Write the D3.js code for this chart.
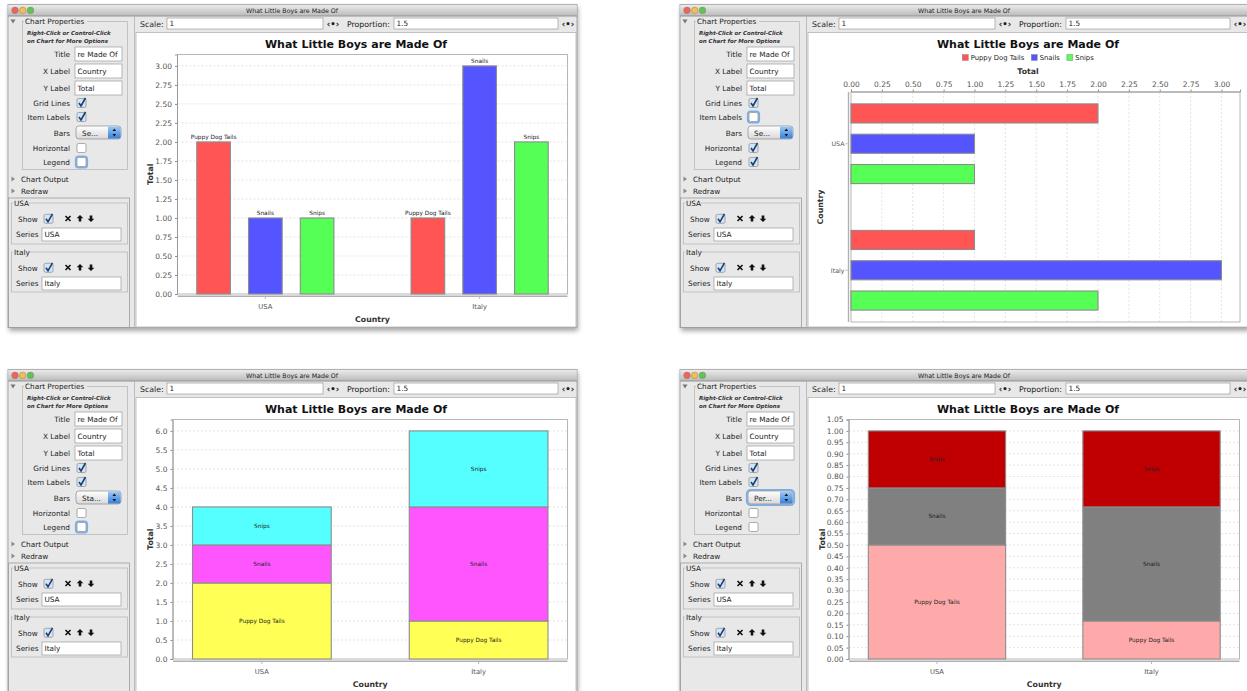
<!DOCTYPE html>
<html>
<head>
<meta charset="utf-8">
<script src="https://cdn.jsdelivr.net/npm/d3@7"></script>
<style>
body { margin: 0; background: #fff; }
svg { display: block; font-family: "DejaVu Sans", sans-serif; }
</style>
</head>
<body>
<svg id="canvas" width="1247" height="691"></svg>
<script>
//Chart data
var countries = ["USA", "Italy"];
var parts = ["Puppy Dog Tails", "Snails", "Snips"];
var puppyDogTails = [2, 1];
var snails = [1, 3];
var snips = [1, 2];

var chartTitle = "What Little Boys are Made Of";
var xLabel = "Country";
var yLabel = "Total";

//Tick labels
var countTicks = [0, 0.25, 0.5, 0.75, 1, 1.25, 1.5, 1.75, 2, 2.25, 2.5, 2.75, 3];
var stackTicks = [0, 0.5, 1, 1.5, 2, 2.5, 3, 3.5, 4, 4.5, 5, 5.5, 6];
var percentTicks = [0, 0.05, 0.1, 0.15, 0.2, 0.25, 0.3, 0.35, 0.4, 0.45, 0.5, 0.55, 0.6, 0.65, 0.7, 0.75, 0.8, 0.85, 0.9, 0.95, 1, 1.05];

//Colours
var groupColors = ["#ff5555", "#5555ff", "#55ff55"];
var stackColors = ["#ffff55", "#ff55ff", "#55ffff"];
var percentColors = ["#ffaaaa", "#808080", "#c00000"];

//Options shown in each window's side panel
var barModes = ["Se...", "Se...", "Sta...", "Per..."];

var rows = countries.map(function(c, i) {
    return {country: c, "Puppy Dog Tails": puppyDogTails[i], "Snails": snails[i], "Snips": snips[i]};
});
var percentRows = rows.map(function(r) {
    var total = d3.sum(parts, function(p) { return r[p]; });
    var o = {country: r.country};
    parts.forEach(function(p) { o[p] = r[p] / total; });
    return o;
});

var svg = d3.select("#canvas");
var bg = "#e8e8e8";

////////////////////// Defs /////////////////////////
var defs = svg.append("defs");
function grad(id, c1, c2) {
    var lg = defs.append("linearGradient").attr("id", id)
        .attr("x1", 0).attr("y1", 0).attr("x2", 0).attr("y2", 1);
    lg.append("stop").attr("offset", "0%").attr("stop-color", c1);
    lg.append("stop").attr("offset", "100%").attr("stop-color", c2);
}
grad("titlebar", "#ebebeb", "#bababa");
grad("button", "#ffffff", "#d8d8d8");
grad("stepper", "#9ccaf7", "#3a7ed8");
defs.append("filter").attr("id", "shadow")
    .attr("x", "-5%").attr("y", "-5%").attr("width", "110%").attr("height", "115%")
    .append("feGaussianBlur").attr("stdDeviation", 2.5);

////////////////////// Widgets /////////////////////////
function txt(g, x, y, s, size) {
    return g.append("text").attr("x", x).attr("y", y)
        .attr("font-size", size).attr("fill", "#222").text(s);
}

function field(g, x, y, w, h, s) {
    g.append("rect").attr("x", x).attr("y", y).attr("width", w).attr("height", h)
        .attr("fill", "#fff").attr("stroke", "#9a9a9a").attr("stroke-width", 0.7);
    txt(g, x + 2.5, y + h / 2 + 2.7, s, 7.3);
}

function checkbox(g, x, cy, checked, focus) {
    var y = cy - 4.5;
    if (focus) {
        g.append("rect").attr("x", x - 1.2).attr("y", y - 1.2).attr("width", 11.4).attr("height", 11.4)
            .attr("rx", 3).attr("fill", "none").attr("stroke", "#7aaee8").attr("stroke-width", 1.8);
    }
    g.append("rect").attr("x", x).attr("y", y).attr("width", 9).attr("height", 9).attr("rx", 1.5)
        .attr("fill", checked ? "#d3e6f8" : "#fff").attr("stroke", "#8a8a8a").attr("stroke-width", 0.7);
    if (checked) {
        g.append("path").attr("d", "M" + (x + 2) + "," + (y + 4.5) + " L" + (x + 4) + "," + (y + 7.5) + " L" + (x + 8.5) + "," + (y - 0.5))
            .attr("fill", "none").attr("stroke", "#1c3e70").attr("stroke-width", 1.6);
    }
}

function groupBox(g, x, y, w, h, label, lw) {
    g.append("rect").attr("x", x).attr("y", y).attr("width", w).attr("height", h)
        .attr("fill", "none").attr("stroke", "#b9b9b9").attr("stroke-width", 0.8);
    g.append("rect").attr("x", x + 1.5).attr("y", y - 4).attr("width", lw).attr("height", 8).attr("fill", bg);
    txt(g, x + 2.5, y + 2.7, label, 7.3);
}

function icons(g, cy) {
    g.append("path").attr("d", "M65.5," + (cy - 2.5) + " L70.5," + (cy + 2.5) + " M70.5," + (cy - 2.5) + " L65.5," + (cy + 2.5))
        .attr("stroke", "#111").attr("stroke-width", 1.6);
    var cx = 80;
    g.append("path").attr("d", "M" + cx + "," + (cy - 3.5) + " l3.3,3.3 h-2 v3.3 h-2.6 v-3.3 h-2 Z").attr("fill", "#111");
    cx = 91;
    g.append("path").attr("d", "M" + cx + "," + (cy + 3.5) + " l3.3,-3.3 h-2 v-3.3 h-2.6 v3.3 h-2 Z").attr("fill", "#111");
}

////////////////////// Window /////////////////////////
function drawWindow(ox, oy, idx, opt) {
    var g = svg.append("g").attr("transform", "translate(" + ox + "," + oy + ")");

    //Frame
    g.append("rect").attr("x", 9).attr("y", 7).attr("width", 569).attr("height", 324)
        .attr("fill", "#000").attr("opacity", 0.35).attr("filter", "url(#shadow)");
    g.append("rect").attr("x", 8).attr("y", 4.5).attr("width", 569).attr("height", 323)
        .attr("fill", bg).attr("stroke", "#9a9a9a").attr("stroke-width", 0.8);
    g.append("rect").attr("x", 8.4).attr("y", 4.9).attr("width", 568.2).attr("height", 11)
        .attr("fill", "url(#titlebar)");
    g.append("line").attr("x1", 8).attr("x2", 577).attr("y1", 16).attr("y2", 16)
        .attr("stroke", "#808080").attr("stroke-width", 0.8);
    [["#ec6559", 15], ["#f3bd4f", 22.7], ["#60c453", 30.5]].forEach(function(d) {
        g.append("circle").attr("cx", d[1]).attr("cy", 10.4).attr("r", 3.3)
            .attr("fill", d[0]).attr("stroke", "#7a7a7a").attr("stroke-width", 0.4);
    });
    txt(g, 292, 12.9, chartTitle, 6.3).attr("text-anchor", "middle");

    //Scale row
    txt(g, 140, 26.5, "Scale:", 7.8);
    field(g, 167, 18, 156, 11, "1");
    txt(g, 333, 26.5, "‹•›", 8.5).attr("font-weight", "bold").attr("text-anchor", "middle");
    txt(g, 347, 26.5, "Proportion:", 7.8);
    field(g, 394, 18, 164, 11, "1.5");
    txt(g, 568, 26.5, "‹•›", 8.5).attr("font-weight", "bold").attr("text-anchor", "middle");

    //Side panel
    g.append("path").attr("d", "M10.5,19.5 L15.5,19.5 L13,23.5 Z").attr("fill", "#777");
    groupBox(g, 22.5, 21.5, 105, 148, "Chart Properties", 63);
    txt(g, 27, 35, "Right-Click or Control-Click", 5.5).attr("font-weight", "bold").attr("font-style", "italic").attr("fill", "#333");
    txt(g, 27, 43, "on Chart for More Options", 5.5).attr("font-weight", "bold").attr("font-style", "italic").attr("fill", "#333");

    var fields = [["Title", "re Made Of", 47], ["X Label", xLabel, 64], ["Y Label", yLabel, 81]];
    fields.forEach(function(f) {
        txt(g, 70, f[2] + 9.5, f[0], 7.3).attr("text-anchor", "end");
        field(g, 75, f[2], 47, 14, f[1]);
    });
    var checks = [["Grid Lines", 103, opt.grid], ["Item Labels", 117, opt.labels],
                  ["Horizontal", 148, opt.horiz], ["Legend", 162, opt.legend]];
    checks.forEach(function(c) {
        txt(g, 70, c[1] + 2.6, c[0], 7.3).attr("text-anchor", "end");
        checkbox(g, 77, c[1], c[2], opt.focus == c[0]);
    });

    //Bars popup
    txt(g, 70, 135.6, "Bars", 7.3).attr("text-anchor", "end");
    if (opt.focus == "Bars") {
        g.append("rect").attr("x", 74.8).attr("y", 124.8).attr("width", 47.4).attr("height", 15.4).attr("rx", 4)
            .attr("fill", "none").attr("stroke", "#7aaee8").attr("stroke-width", 1.8);
    }
    g.append("rect").attr("x", 76).attr("y", 126).attr("width", 45).attr("height", 13).attr("rx", 3)
        .attr("fill", "url(#button)").attr("stroke", "#8a8a8a").attr("stroke-width", 0.7);
    g.append("path").attr("d", "M108,126.4 h10 a2.6,2.6 0 0 1 2.6,2.6 v7 a2.6,2.6 0 0 1 -2.6,2.6 h-10 Z")
        .attr("fill", "url(#stepper)");
    g.append("path").attr("d", "M112.5,131 l1.8,-2.4 l1.8,2.4 Z M112.5,134 l1.8,2.4 l1.8,-2.4 Z").attr("fill", "#111");
    txt(g, 82, 135.6, barModes[idx], 7.3);

    //Collapsed sections
    g.append("path").attr("d", "M11.5,176.5 L15,179 L11.5,181.5 Z").attr("fill", "#888");
    txt(g, 21, 181.6, "Chart Output", 7.3);
    g.append("path").attr("d", "M11.5,188.5 L15,191 L11.5,193.5 Z").attr("fill", "#888");
    txt(g, 21, 193.6, "Redraw", 7.3);

    //Series panel
    g.append("rect").attr("x", 8.5).attr("y", 198).attr("width", 121).attr("height", 129.5)
        .attr("fill", "none").attr("stroke", "#9d9d9d").attr("stroke-width", 0.8);
    g.append("line").attr("x1", 134.5).attr("x2", 134.5).attr("y1", 16).attr("y2", 327)
        .attr("stroke", "#b0b0b0").attr("stroke-width", 0.8);
    [["USA", 203, 41, 16], ["Italy", 252, 40, 16]].forEach(function(s) {
        var y = s[1];
        groupBox(g, 11.5, y, 116, s[2], s[0], s[3]);
        txt(g, 18, y + 18.5, "Show", 7.3);
        checkbox(g, 44, y + 15.8, true, false);
        icons(g, y + 15.5);
        txt(g, 16, y + 34, "Series", 7.3);
        field(g, 42, y + 25, 79, 13, s[0]);
    });

    //Chart panel
    g.append("rect").attr("x", 136).attr("y", 32.5).attr("width", 440).attr("height", 294.5)
        .attr("fill", "#fff").attr("stroke", "#b5b5b5").attr("stroke-width", 0.8);
    txt(g, 356, 47.5, chartTitle, 11).attr("font-weight", "bold").attr("text-anchor", "middle").attr("fill", "#111");
    return g;
}

function styleAxis(ax, size) {
    ax.attr("font-family", null).attr("font-size", null);
    ax.select(".domain").attr("stroke", "#9a9a9a");
    ax.selectAll(".tick line").attr("stroke", "#8a8a8a");
    ax.selectAll(".tick text").attr("fill", "#555").attr("font-size", size);
}

////////////////////// Vertical charts /////////////////////////
function verticalChart(g, mode) {
    var left = mode == "stack" ? 173 : 177.5;
    var right = 567.5, top = 54.5, bottom = 294;
    var data = rows, ticks = countTicks, fmt = d3.format(".2f"), colors = groupColors, yMax = 3.15;
    if (mode == "stack") { ticks = stackTicks; fmt = d3.format(".1f"); colors = stackColors; yMax = 6.3; }
    if (mode == "percent") { data = percentRows; ticks = percentTicks; colors = percentColors; yMax = 1.05; left = 177; }

    var x0 = d3.scaleBand().domain(countries).range([left, right]).paddingInner(0.36).paddingOuter(0.09);
    var x1 = d3.scaleBand().domain(parts).range([0, x0.bandwidth()]).paddingInner(0.35);
    var y = d3.scaleLinear().domain([0, yMax]).range([bottom, top]);
    var color = d3.scaleOrdinal().domain(parts).range(colors);

    g.append("rect").attr("x", left).attr("y", top).attr("width", right - left).attr("height", bottom - top)
        .attr("fill", "#fff").attr("stroke", "#b0b0b0").attr("stroke-width", 0.9);

    //Grid lines
    g.append("g").selectAll("line")
        .data(ticks.filter(function(t) { return t > 0 && y(t) > top + 0.5; }))
        .enter().append("line")
        .attr("x1", left).attr("x2", right)
        .attr("y1", function(d) { return y(d); }).attr("y2", function(d) { return y(d); })
        .attr("stroke", "#d2d2d2").attr("stroke-width", 0.6).attr("stroke-dasharray", "2,2");

    //Value axis
    var ax = g.append("g").attr("transform", "translate(" + (left - 0.5) + ",0)")
        .call(d3.axisLeft(y).tickValues(ticks).tickFormat(fmt).tickSize(2).tickPadding(3));
    styleAxis(ax, 7.5);

    //Category axis
    g.append("line").attr("x1", left).attr("x2", right).attr("y1", bottom + 2.2).attr("y2", bottom + 2.2)
        .attr("stroke", "#b0b0b0").attr("stroke-width", 1.4);
    countries.forEach(function(c) {
        var cx = x0(c) + x0.bandwidth() / 2;
        g.append("line").attr("x1", cx).attr("x2", cx).attr("y1", bottom + 3).attr("y2", bottom + 5)
            .attr("stroke", "#8a8a8a").attr("stroke-width", 0.6);
        txt(g, cx, bottom + 14.5, c, 6.8).attr("text-anchor", "middle").attr("fill", "#555");
    });
    txt(g, (left + right) / 2, bottom + 28, xLabel, 7.8).attr("font-weight", "bold")
        .attr("text-anchor", "middle").attr("fill", "#333");
    txt(g, 0, 0, yLabel, 7.8).attr("font-weight", "bold").attr("text-anchor", "middle").attr("fill", "#333")
        .attr("transform", "translate(152.5," + ((top + bottom) / 2) + ") rotate(-90)");

    if (mode == "group") {
        var groups = g.append("g").selectAll("g").data(data).enter().append("g")
            .attr("transform", function(d) { return "translate(" + x0(d.country) + ",0)"; });
        var cells = groups.selectAll("g").data(function(d) {
            return parts.map(function(p) { return {key: p, value: d[p]}; });
        }).enter().append("g");
        cells.append("rect")
            .attr("x", function(d) { return x1(d.key); })
            .attr("y", function(d) { return y(d.value); })
            .attr("width", x1.bandwidth())
            .attr("height", function(d) { return bottom - y(d.value); })
            .attr("fill", function(d) { return color(d.key); })
            .attr("stroke", "#8c8c8c").attr("stroke-width", 1.1);
        cells.append("text")
            .attr("x", function(d) { return x1(d.key) + x1.bandwidth() / 2; })
            .attr("y", function(d) { return y(d.value) - 2.5; })
            .attr("text-anchor", "middle").attr("font-size", 5.8).attr("fill", "#222")
            .text(function(d) { return d.key; });
    } else {
        var series = d3.stack().keys(parts)(data);
        var layers = g.append("g").selectAll("g").data(series).enter().append("g")
            .attr("fill", function(d) { return color(d.key); });
        layers.selectAll("rect").data(function(d) { return d; }).enter().append("rect")
            .attr("x", function(d) { return x0(d.data.country); })
            .attr("y", function(d) { return y(d[1]); })
            .attr("width", x0.bandwidth())
            .attr("height", function(d) { return y(d[0]) - y(d[1]); })
            .attr("stroke", "#8c8c8c").attr("stroke-width", 1.1);
        series.forEach(function(s) {
            s.forEach(function(d) {
                txt(g, x0(d.data.country) + x0.bandwidth() / 2, (y(d[0]) + y(d[1])) / 2 + 2, s.key, 5.8)
                    .attr("text-anchor", "middle");
            });
        });
    }
}

////////////////////// Horizontal chart /////////////////////////
function horizontalChart(g) {
    var left = 179, right = 568, top = 92, bottom = 322;
    var yb = d3.scaleBand().domain(countries).range([top, bottom]).paddingInner(0.37).paddingOuter(0.094);
    var y1 = d3.scaleBand().domain(parts).range([0, yb.bandwidth()]).paddingInner(0.37);
    var x = d3.scaleLinear().domain([0, 3.15]).range([left, right]);
    var color = d3.scaleOrdinal().domain(parts).range(groupColors);

    g.append("rect").attr("x", left).attr("y", top).attr("width", right - left).attr("height", bottom - top)
        .attr("fill", "#fff").attr("stroke", "#b0b0b0").attr("stroke-width", 0.9);

    g.append("g").selectAll("line").data(countTicks.filter(function(t) { return t > 0; }))
        .enter().append("line")
        .attr("x1", function(d) { return x(d); }).attr("x2", function(d) { return x(d); })
        .attr("y1", top).attr("y2", bottom)
        .attr("stroke", "#d2d2d2").attr("stroke-width", 0.6).attr("stroke-dasharray", "2,2");

    var ax = g.append("g").attr("transform", "translate(0," + (top - 0.5) + ")")
        .call(d3.axisTop(x).tickValues(countTicks).tickFormat(d3.format(".2f")).tickSize(2).tickPadding(3));
    styleAxis(ax, 7.5);
    txt(g, 356, 74, yLabel, 7.8).attr("font-weight", "bold").attr("text-anchor", "middle").attr("fill", "#333");

    //Legend
    var leg = g.append("g");
    var lx = 0;
    parts.forEach(function(p, i) {
        leg.append("rect").attr("x", lx).attr("y", -3).attr("width", 6).attr("height", 6)
            .attr("fill", groupColors[i]).attr("stroke", "#8c8c8c").attr("stroke-width", 0.5);
        var t = txt(leg, lx + 8.5, 2.5, p, 6.8);
        lx += 8.5 + t.node().getComputedTextLength() + 7;
    });
    leg.attr("transform", "translate(" + (356 - (lx - 7) / 2) + ",57.5)");

    //Category axis
    g.append("line").attr("x1", left - 2.5).attr("x2", left - 2.5).attr("y1", top).attr("y2", bottom)
        .attr("stroke", "#b0b0b0").attr("stroke-width", 1.4);
    countries.forEach(function(c) {
        var cy = yb(c) + yb.bandwidth() / 2;
        g.append("line").attr("x1", left - 5.5).attr("x2", left - 3.3).attr("y1", cy).attr("y2", cy)
            .attr("stroke", "#8a8a8a").attr("stroke-width", 0.6);
        txt(g, left - 6.5, cy + 2.3, c, 6.3).attr("text-anchor", "end").attr("fill", "#555");
    });
    txt(g, 0, 0, xLabel, 7.8).attr("font-weight", "bold").attr("text-anchor", "middle").attr("fill", "#333")
        .attr("transform", "translate(150.5," + ((top + bottom) / 2) + ") rotate(-90)");

    var groups = g.append("g").selectAll("g").data(rows).enter().append("g")
        .attr("transform", function(d) { return "translate(0," + yb(d.country) + ")"; });
    groups.selectAll("rect").data(function(d) {
        return parts.map(function(p) { return {key: p, value: d[p]}; });
    }).enter().append("rect")
        .attr("x", left)
        .attr("y", function(d) { return y1(d.key); })
        .attr("width", function(d) { return x(d.value) - left; })
        .attr("height", y1.bandwidth())
        .attr("fill", function(d) { return color(d.key); })
        .attr("stroke", "#8c8c8c").attr("stroke-width", 1.1);
}

////////////////////// Draw all four windows /////////////////////////
var w1 = drawWindow(0, 0, 0, {grid: true, labels: true, horiz: false, legend: false, focus: "Legend"});
verticalChart(w1, "group");

var w2 = drawWindow(672, 0, 1, {grid: true, labels: false, horiz: true, legend: true, focus: "Item Labels"});
horizontalChart(w2);

var w3 = drawWindow(0, 365, 2, {grid: true, labels: true, horiz: false, legend: false, focus: "Legend"});
verticalChart(w3, "stack");

var w4 = drawWindow(672, 365, 3, {grid: true, labels: true, horiz: false, legend: false, focus: "Bars"});
verticalChart(w4, "percent");
</script>
</body>
</html>
